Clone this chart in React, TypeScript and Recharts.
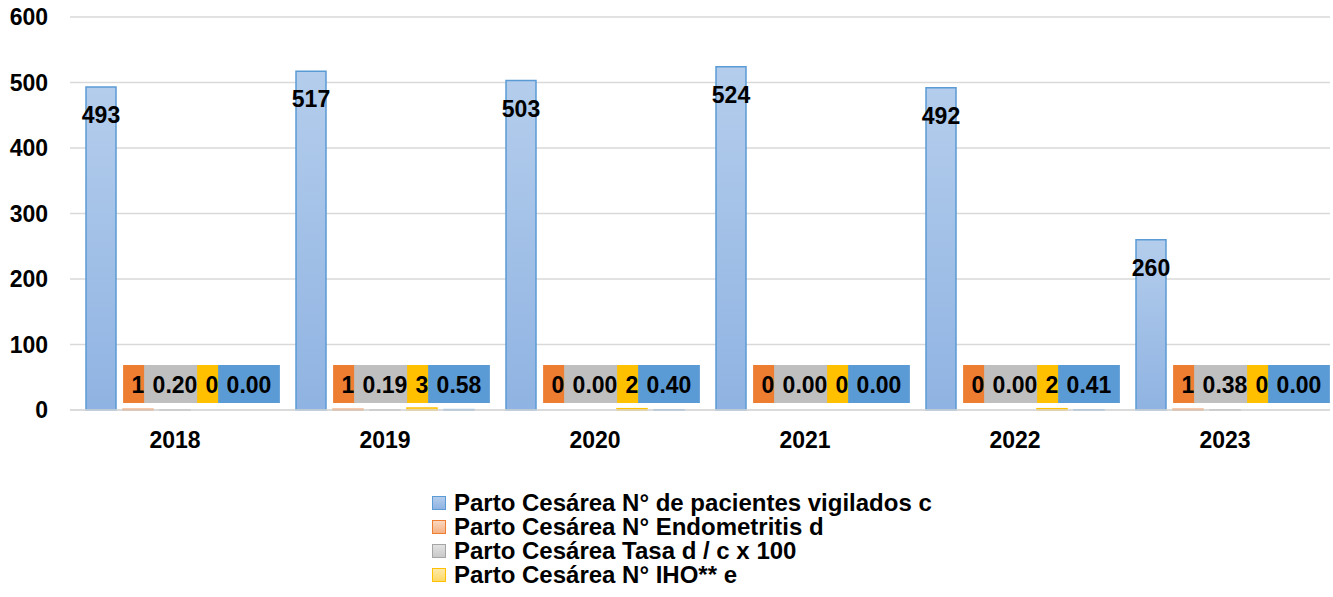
import React from "react";
import { Bar, BarChart, CartesianGrid, Cell, LabelList, XAxis, YAxis } from "recharts";

const years = ["2018", "2019", "2020", "2021", "2022", "2023"];
const pacientes = [493, 517, 503, 524, 492, 260];
const endometritis = [1, 1, 0, 0, 0, 1];
const tasaEndometritis = [0.2, 0.19, 0, 0, 0, 0.38];
const iho = [0, 3, 2, 0, 2, 0];
const tasaIho = [0, 0.58, 0.4, 0, 0.41, 0];
const yTicks = [0, 100, 200, 300, 400, 500, 600];

// the fifth entry (Tasa e / c x 100) falls below the visible area in the reference
const legendNames = [
  "Parto Cesárea N° de pacientes vigilados c",
  "Parto Cesárea N° Endometritis d",
  "Parto Cesárea Tasa d / c x 100",
  "Parto Cesárea N° IHO** e",
];

const FONT = "'Liberation Sans', Arial, sans-serif";

// one entry per series: bar stroke, light bar fill, label box colour
const SERIES = [
  { key: "pacientes", stroke: "#5b9bd5", top: "#b4cdec", bottom: "#8fb3e2", box: null, decimals: false },
  { key: "endometritis", stroke: "#ed7d31", top: "#fad7c0", bottom: "#f4b183", box: "#ed7d31", decimals: false },
  { key: "tasaEndometritis", stroke: "#a5a5a5", top: "#e2e2e2", bottom: "#c9c9c9", box: "#bfbfbf", decimals: true },
  { key: "iho", stroke: "#ffc000", top: "#ffe9a8", bottom: "#ffd966", box: "#ffc000", decimals: false },
  { key: "tasaIho", stroke: "#5b9bd5", top: "#cfe0f3", bottom: "#a9c6e8", box: "#5b9bd5", decimals: true },
];

const data = years.map((year, i) => ({
  year,
  pacientes: pacientes[i],
  endometritis: endometritis[i],
  tasaEndometritis: tasaEndometritis[i],
  iho: iho[i],
  tasaIho: tasaIho[i],
}));

const LABEL_SIZE = 23;

function textWidth(text: string) {
  let w = 0;
  for (const ch of text) w += ch === "." ? 0.278 : 0.556;
  return w * LABEL_SIZE;
}

function BoxLabel(props: any) {
  const { x, y, width, height, value, box, decimals } = props;
  const text = decimals ? Number(value).toFixed(2) : String(value);
  const w = Math.max(29, textWidth(text) + 17);
  const cx = Number(x) + Number(width) / 2;
  const cy = Number(y) + Number(height) - 26;
  return (
    <g>
      <rect x={cx - w / 2} y={cy - 19} width={w} height={38} fill={box} />
      <text
        x={cx}
        y={cy + 1}
        textAnchor="middle"
        dominantBaseline="central"
        fontFamily={FONT}
        fontWeight="bold"
        fontSize={LABEL_SIZE}
        fill="#000"
      >
        {text}
      </text>
    </g>
  );
}

function TopLabel(props: any) {
  const { x, y, width, value } = props;
  return (
    <text
      x={Number(x) + Number(width) / 2}
      y={Number(y) + 28}
      textAnchor="middle"
      dominantBaseline="central"
      fontFamily={FONT}
      fontWeight="bold"
      fontSize={LABEL_SIZE}
      fill="#000"
    >
      {value}
    </text>
  );
}

export default function App() {
  const tick = { fontFamily: FONT, fontWeight: "bold", fontSize: 23, fill: "#000" };
  return (
    <div style={{ position: "absolute", top: 0, left: 0, width: 1333, height: 597, overflow: "hidden", background: "#fff" }}>
      <BarChart
        width={1333}
        height={597}
        data={data}
        margin={{ top: 17, right: 3, bottom: 127, left: 0 }}
        barSize={30}
        barGap={7}
      >
        <defs>
          {SERIES.map((s) => (
            <linearGradient key={s.key} id={`grad-${s.key}`} x1="0" y1="0" x2="0" y2="1">
              <stop offset="0%" stopColor={s.top} />
              <stop offset="100%" stopColor={s.bottom} />
            </linearGradient>
          ))}
        </defs>
        <CartesianGrid vertical={false} stroke="#d9d9d9" strokeWidth={1.5} />
        <XAxis
          dataKey="year"
          height={60}
          tick={tick}
          tickLine={false}
          tickSize={0}
          tickMargin={22}
          axisLine={{ stroke: "#d9d9d9", strokeWidth: 1.5 }}
        />
        <YAxis
          width={70}
          domain={[0, 600]}
          ticks={yTicks}
          tick={tick}
          tickLine={false}
          tickSize={0}
          tickMargin={22}
          axisLine={false}
          interval={0}
        />
        {SERIES.map((s) => (
          <Bar
            key={s.key}
            dataKey={s.key}
            fill={`url(#grad-${s.key})`}
            stroke={s.stroke}
            strokeWidth={1.5}
            minPointSize={(v: any) => (Number(v) === 0 ? 0.5 : 0)}
            isAnimationActive={false}
          >
            {data.map((d: any) => (
              <Cell
                key={d.year}
                fillOpacity={d[s.key] === 0 ? 0 : 1}
                strokeOpacity={d[s.key] === 0 ? 0 : 1}
              />
            ))}
            <LabelList
              dataKey={s.key}
              content={(p: any) =>
                s.box ? <BoxLabel {...p} box={s.box} decimals={s.decimals} /> : <TopLabel {...p} />
              }
            />
          </Bar>
        ))}
      </BarChart>
      <div style={{ position: "absolute", left: 432, top: 491, fontFamily: FONT, fontWeight: "bold", fontSize: 24, color: "#000" }}>
        {legendNames.map((name, i) => (
          <div key={name} style={{ display: "flex", alignItems: "center", height: 24, lineHeight: "24px", whiteSpace: "nowrap" }}>
            <span
              style={{
                display: "inline-block",
                width: 12,
                height: 12,
                marginRight: 8,
                border: `1.5px solid ${SERIES[i].stroke}`,
                background: `linear-gradient(${SERIES[i].top}, ${SERIES[i].bottom})`,
              }}
            />
            {name}
          </div>
        ))}
      </div>
    </div>
  );
}
